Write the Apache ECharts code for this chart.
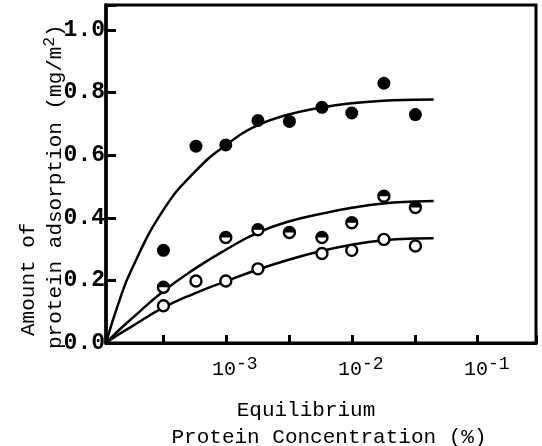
<!DOCTYPE html>
<html lang="en">
<head>
<meta charset="UTF-8">
<title>Protein adsorption</title>
<script src="https://cdn.jsdelivr.net/npm/echarts@6/dist/echarts.min.js"></script>
<style>
  html, body { margin: 0; padding: 0; background: #fff; }
  #chart { width: 542px; height: 446px; }
</style>
</head>
<body>
<div id="chart"></div>
<script>
// measured points (concentration %, adsorption mg/m2)
var fullConc  = [3.2e-4, 5.8e-4, 1e-3, 1.8e-3, 3.2e-3, 5.8e-3, 1e-2, 1.8e-2, 3.2e-2];
var fullVal   = [0.296, 0.629, 0.633, 0.711, 0.708, 0.753, 0.735, 0.830, 0.730];
var halfConc  = [3.2e-4, 1e-3, 1.8e-3, 3.2e-3, 5.8e-3, 1e-2, 1.8e-2, 3.2e-2];
var halfVal   = [0.178, 0.337, 0.362, 0.353, 0.337, 0.384, 0.469, 0.433];
var openConc  = [3.2e-4, 5.8e-4, 1e-3, 1.8e-3, 5.8e-3, 1e-2, 1.8e-2, 3.2e-2];
var openVal   = [0.119, 0.198, 0.198, 0.237, 0.286, 0.296, 0.331, 0.310];

// drawn curves at roughly even steps
var curveConc = [1.12e-4, 1.41e-4, 1.78e-4, 3.16e-4, 5.62e-4, 1e-3, 1.78e-3, 3.16e-3, 5.62e-3, 1e-2, 1.78e-2, 3.16e-2, 4.47e-2];
var upperVal  = [0, 0.128, 0.233, 0.422, 0.545, 0.632, 0.695, 0.730, 0.752, 0.766, 0.774, 0.777, 0.778];
var midVal    = [0, 0.040, 0.077, 0.164, 0.236, 0.298, 0.352, 0.388, 0.412, 0.432, 0.446, 0.452, 0.454];
var lowVal    = [0, 0.027, 0.052, 0.112, 0.158, 0.197, 0.234, 0.266, 0.293, 0.314, 0.328, 0.334, 0.335];

var yTicks = [0, 0.2, 0.4, 0.6, 0.8, 1.0];

function pairs(xs, ys) {
  return xs.map(function (x, i) { return [x, ys[i]]; });
}

var FONT = '"Liberation Mono", "DejaVu Sans Mono", monospace';
// upper half of a disc, drawn over an open circle
var topHalf = 'path://M-10,0A10,10 0 0,1 10,0Z';

var chart = echarts.init(document.getElementById('chart'));

function curve(data) {
  return {
    type: 'line', data: data, smooth: 0.5, showSymbol: false, symbol: 'none',
    lineStyle: { color: '#000', width: 2.5 }, z: 2, silent: true
  };
}

chart.setOption({
  animation: false,
  backgroundColor: '#fff',
  grid: { left: 106, right: 6, top: 5, bottom: 103, show: true, borderColor: '#000', borderWidth: 3 },
  xAxis: {
    type: 'log',
    logBase: Math.sqrt(10),
    min: 1.12e-4,
    max: 0.29,
    axisLine: { lineStyle: { color: '#000', width: 3 } },
    axisTick: { show: true, inside: true, length: 8, lineStyle: { color: '#000', width: 3 } },
    splitLine: { show: false },
    axisLabel: {
      color: '#000',
      fontFamily: FONT,
      fontSize: 20,
      margin: 12,
      padding: [0, 0, 0, 18],
      formatter: function (v) {
        var lg = Math.log10(v);
        var r = Math.round(lg);
        if (Math.abs(lg - r) > 0.01) return '';
        return '10{sup|' + r + '}';
      },
      rich: {
        sup: { fontSize: 18, fontFamily: FONT, color: '#000', padding: [0, 0, 12, 0] }
      }
    }
  },
  yAxis: {
    type: 'value',
    min: 0,
    max: 1.08,
    interval: 0.2,
    axisLine: { show: true, lineStyle: { color: '#000', width: 3.5 } },
    axisTick: { show: true, inside: true, length: 10, lineStyle: { color: '#000', width: 3 } },
    splitLine: { show: false },
    axisLabel: {
      color: '#000',
      fontFamily: FONT,
      fontWeight: 'bold',
      fontSize: 23,
      margin: 1,
      formatter: function (v) {
        for (var i = 0; i < yTicks.length; i++) {
          if (Math.abs(v - yTicks[i]) < 1e-6) return yTicks[i].toFixed(1);
        }
        return '';
      }
    }
  },
  graphic: [
    { type: 'text', x: 28, y: 336, rotation: Math.PI / 2,
      style: { text: 'Amount of', fontFamily: FONT, fontSize: 21, fill: '#000', align: 'left', verticalAlign: 'middle' } },
    { type: 'text', x: 55, y: 349, rotation: Math.PI / 2,
      style: { text: 'protein adsorption (mg/m{sup|2})', fontFamily: FONT, fontSize: 21, fill: '#000', align: 'left', verticalAlign: 'middle',
        rich: { sup: { fontFamily: FONT, fontSize: 16, fill: '#000', padding: [0, 0, 10, 0] } } } },
    { type: 'text', x: 306, y: 410,
      style: { text: 'Equilibrium', fontFamily: FONT, fontSize: 21, fill: '#000', align: 'center', verticalAlign: 'middle' } },
    { type: 'text', x: 329, y: 437,
      style: { text: 'Protein Concentration (%)', fontFamily: FONT, fontSize: 21, fill: '#000', align: 'center', verticalAlign: 'middle' } }
  ],
  series: [
    curve(pairs(curveConc, upperVal)),
    curve(pairs(curveConc, midVal)),
    curve(pairs(curveConc, lowVal)),
    {
      type: 'scatter', data: pairs(fullConc, fullVal), symbol: 'circle', symbolSize: 13,
      itemStyle: { color: '#000', opacity: 1 }, z: 5
    },
    {
      type: 'scatter', data: pairs(halfConc, halfVal), symbol: 'circle', symbolSize: 11,
      itemStyle: { color: '#fff', borderColor: '#000', borderWidth: 2.4, opacity: 1 }, z: 5
    },
    {
      type: 'scatter', data: pairs(halfConc, halfVal), symbol: topHalf, symbolSize: [11, 6],
      symbolOffset: [0, -3], itemStyle: { color: '#000', opacity: 1 }, z: 6
    },
    {
      type: 'scatter', data: pairs(openConc, openVal), symbol: 'circle', symbolSize: 11,
      itemStyle: { color: '#fff', borderColor: '#000', borderWidth: 2.4, opacity: 1 }, z: 5
    }
  ]
});
</script>
</body>
</html>
